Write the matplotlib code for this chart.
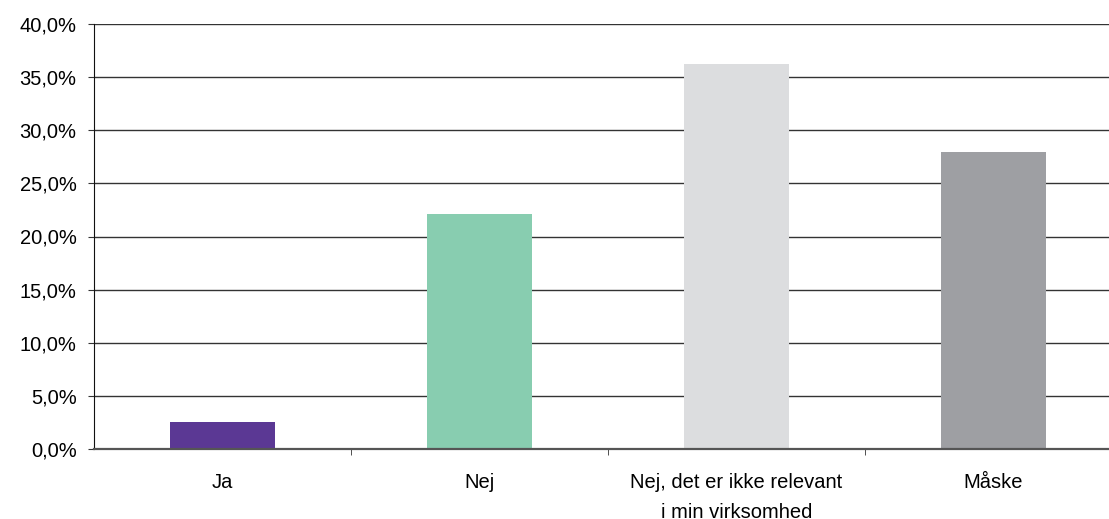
import matplotlib.pyplot as plt
import numpy as np
from matplotlib.ticker import FuncFormatter, FixedLocator

plt.rcParams['font.family'] = ['Liberation Sans', 'DejaVu Sans']

# Svarfordeling
categories = ['Ja', 'Nej', 'Nej, det er ikke relevant\ni min virksomhed', 'Måske']
values = [2.55, 22.1, 36.2, 27.95]
colors = ['#5B3894', '#88CDB0', '#DCDDDF', '#9E9FA3']

fig = plt.figure(figsize=(11.09, 5.19), dpi=100)
ax = fig.add_axes([94 / 1109, 70 / 519, 1028 / 1109, 425 / 519])

x = np.arange(len(categories))
ax.bar(x, values, width=0.41, color=colors, zorder=3)

ax.set_xlim(-0.5, 3.5)
ax.set_ylim(0, 40)
ax.set_yticks(np.arange(0, 41, 5))
ax.yaxis.set_major_formatter(FuncFormatter(lambda v, p: f'{v:.1f}%'.replace('.', ',')))
ax.grid(axis='y', color='#333333', linewidth=1.0, zorder=0)

ax.set_xticks(x)
ax.set_xticklabels(categories, linespacing=1.75, va='top')
ax.xaxis.set_minor_locator(FixedLocator([0.5, 1.5, 2.5]))
ax.tick_params(axis='x', which='major', length=0, pad=17, labelsize=14.5)
ax.tick_params(axis='x', which='minor', length=4.5, color='#333333', direction='out')
ax.tick_params(axis='y', length=4.5, color='#333333', labelsize=14.5, pad=8)

for s in ['top', 'right']:
    ax.spines[s].set_visible(False)
ax.spines['left'].set_color('#111111')
ax.spines['bottom'].set_color('#555555')
ax.spines['bottom'].set_linewidth(1.6)
ax.spines['bottom'].set_zorder(4)

plt.savefig('out.png', dpi=100)
